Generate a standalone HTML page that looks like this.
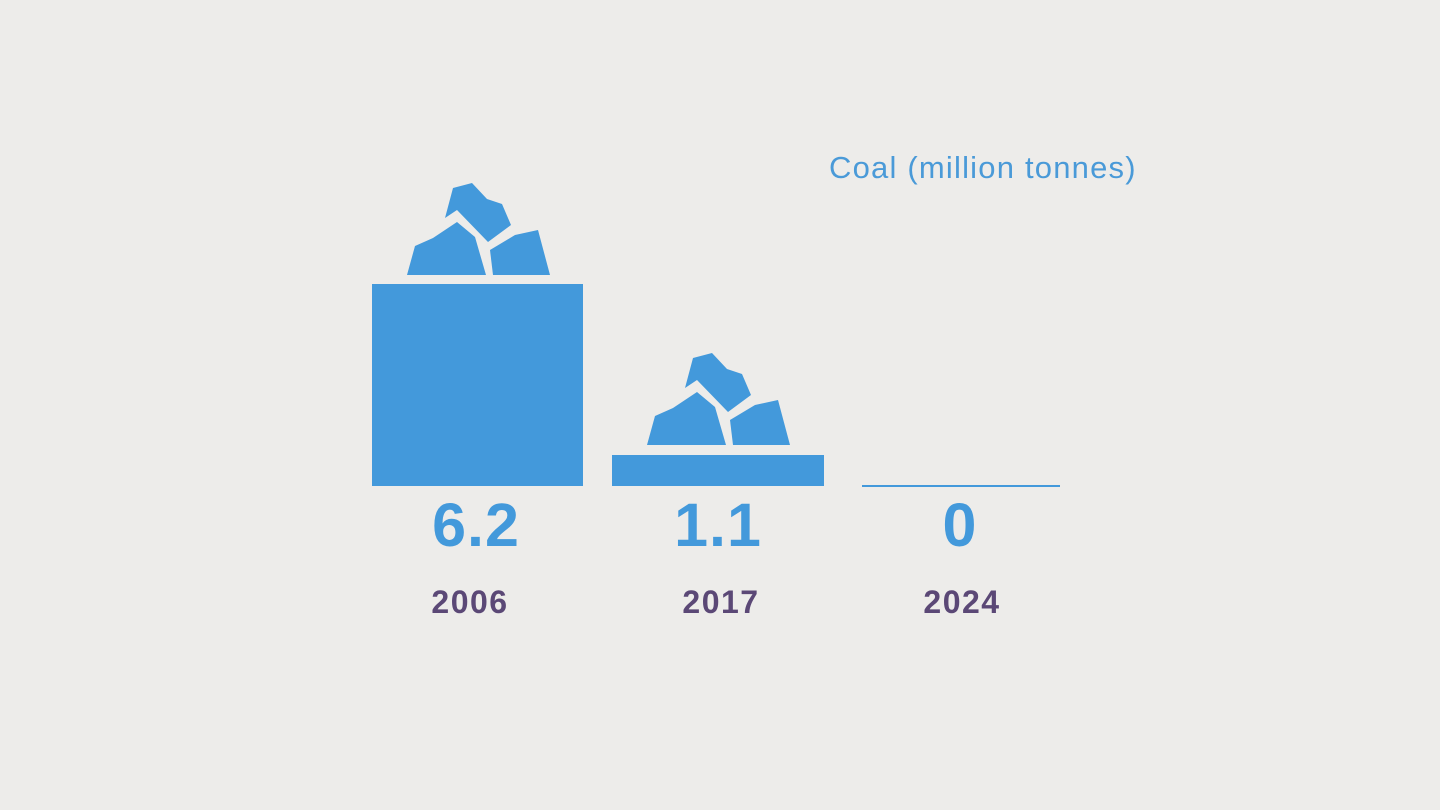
<!DOCTYPE html>
<html><head><style>
body{margin:0;width:1440px;height:810px;background:#edecea;overflow:hidden;font-family:"Liberation Sans",sans-serif;position:relative}
.t{position:absolute;white-space:nowrap}
.num{color:#4399db;font-weight:bold;font-size:61px;letter-spacing:1px;text-align:center;width:220px;top:490px}
.yr{color:#5b4876;font-weight:bold;font-size:32px;letter-spacing:1.5px;text-align:center;width:220px;top:584px}
</style></head><body>
<svg width="1440" height="810" style="position:absolute;left:0;top:0">
<defs><g id="c" fill="#4399db">
<polygon points="445,218 453,188 472,183 487,199 502,204 511,225 488,242 457,210"/>
<polygon points="415,246 433,238 457,222 475,237 486,275 407,275"/>
<polygon points="490,250 515,235 538,230 550,275 493,275"/>
</g></defs>
<use href="#c"/>
<use href="#c" transform="translate(240,170)"/>
<rect x="372" y="284" width="211" height="202" fill="#4399db"/>
<rect x="612" y="455" width="212" height="31" fill="#4399db"/>
<rect x="862" y="485" width="198" height="2" fill="#4399db"/>
</svg>
<div class="t" style="left:829px;top:150px;font-size:31px;letter-spacing:1.2px;color:#4a9ad8">Coal (million tonnes)</div>
<div class="t num" style="left:366px">6.2</div>
<div class="t num" style="left:608px">1.1</div>
<div class="t num" style="left:850px">0</div>
<div class="t yr" style="left:360px">2006</div>
<div class="t yr" style="left:611px">2017</div>
<div class="t yr" style="left:852px">2024</div>
</body></html>
